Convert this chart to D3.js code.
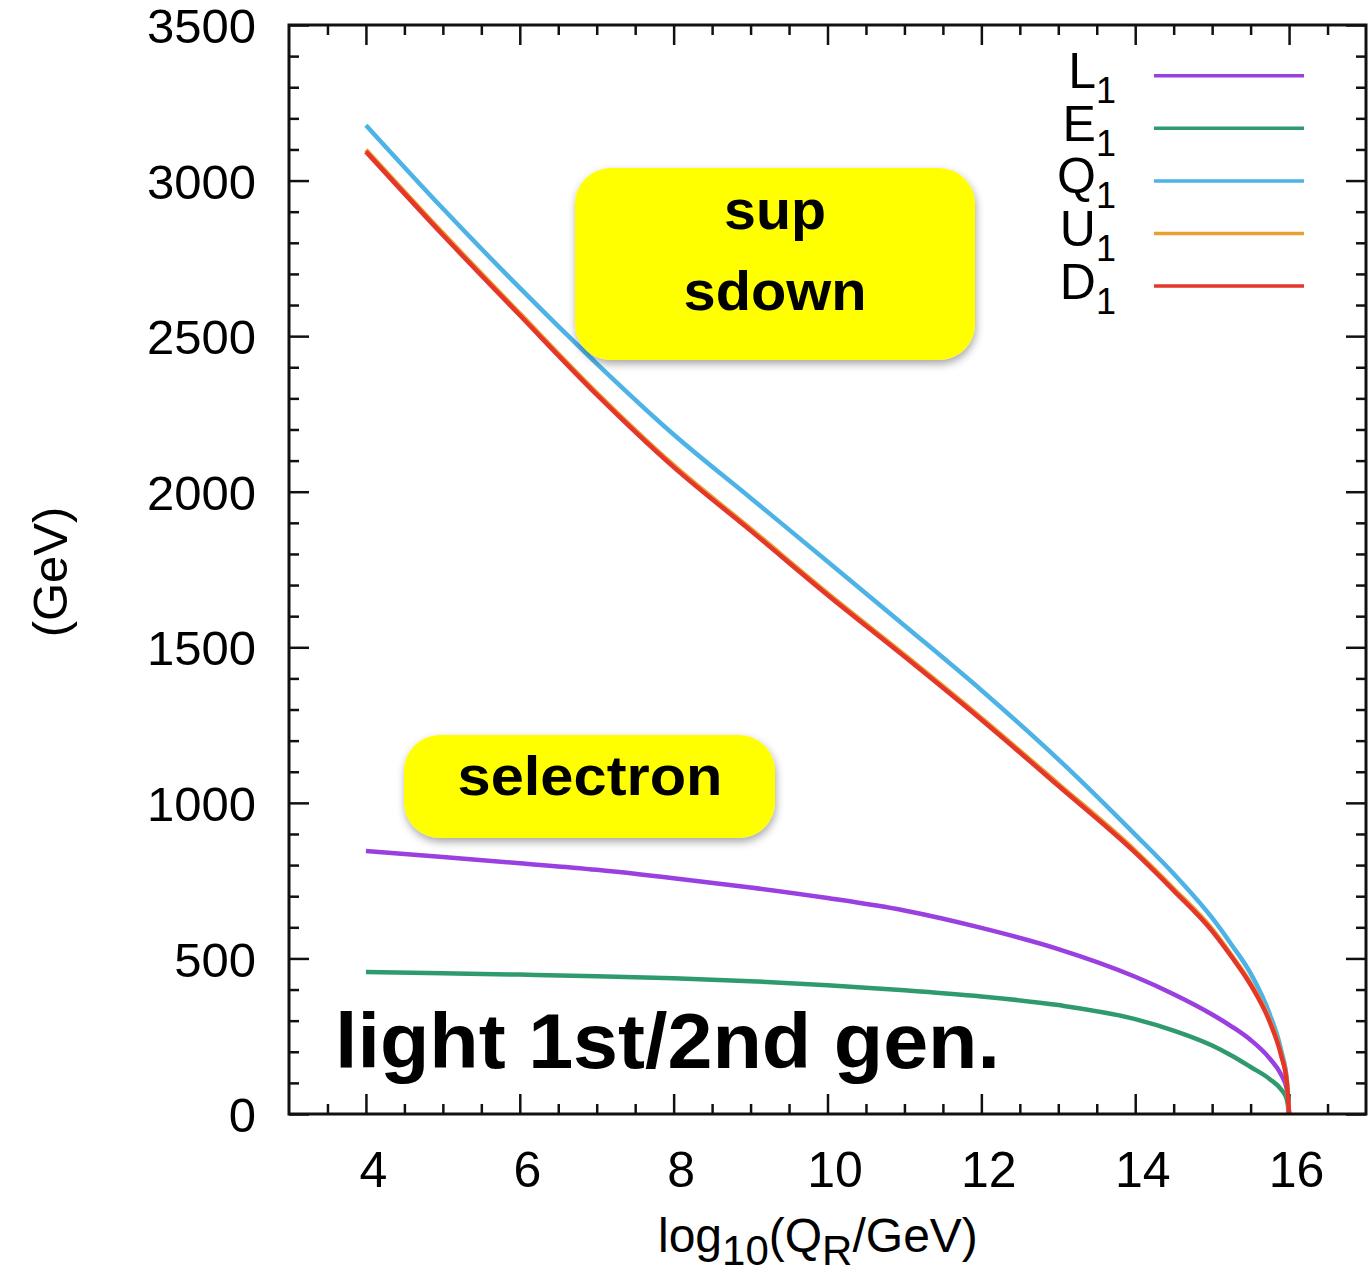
<!DOCTYPE html>
<html lang="en">
<head>
<meta charset="UTF-8">
<title>Running sfermion masses, light 1st/2nd gen.</title>
<script src="https://d3js.org/d3.v7.min.js"></script>
<style>
  body { margin: 0; background: #fff; }
  svg text { font-family: "Liberation Sans", Arial, sans-serif; fill: #000; }
</style>
</head>
<body>
<div id="chart"></div>
<script>
// log10(Q_R/GeV) sample points
const logQ = [4, 5, 6, 7, 8, 9, 10, 11, 12, 13, 14, 14.5, 15, 15.25, 15.5, 15.75, 15.9, 15.97, 16];

// masses in GeV
const mL1 = [845, 826, 806, 785, 758, 728, 694, 654, 598, 530, 441, 385, 320, 282, 238, 178, 125, 80, 0];
const mE1 = [456, 452, 448, 443, 436, 427, 414, 398, 378, 350, 305, 268, 220, 188, 151, 112, 78, 48, 0];
const mQ1 = [3178, 2910, 2655, 2412, 2184, 1980, 1776, 1570, 1362, 1140, 898, 772, 630, 545, 452, 320, 202, 111, 0];
const mU1 = [3099, 2831, 2573, 2318, 2085, 1881, 1674, 1476, 1273, 1061, 846, 724, 594, 511, 420, 300, 190, 106, 0];
const mD1 = [3093, 2825, 2567, 2312, 2079, 1875, 1668, 1470, 1267, 1055, 840, 718, 588, 506, 415, 295, 186, 103, 0];

const seriesNames = ["L", "E", "Q", "U", "D"];
const seriesValues = [mL1, mE1, mQ1, mU1, mD1];
const seriesColors = ["#9a3fe0", "#2f9a6e", "#4db3e6", "#e8a030", "#e5362a"];

const xTickLabels = [4, 6, 8, 10, 12, 14, 16];
const yTickLabels = [0, 500, 1000, 1500, 2000, 2500, 3000, 3500];

const width = 1370, height = 1276;
const plotLeft = 289, plotRight = 1366, plotTop = 25, plotBottom = 1114;

const x = d3.scaleLinear().domain([3, 17]).range([plotLeft, plotRight]);
const y = d3.scaleLinear().domain([0, 3500]).range([plotBottom, plotTop]);

const svg = d3.select("#chart")
  .append("svg")
  .attr("width", width)
  .attr("height", height);

const defs = svg.append("defs");
defs.append("clipPath").attr("id", "plotClip")
  .append("rect")
  .attr("x", plotLeft).attr("y", plotTop)
  .attr("width", plotRight - plotLeft).attr("height", plotBottom - plotTop);

const shadow = defs.append("filter").attr("id", "shadow")
  .attr("x", "-10%").attr("y", "-10%").attr("width", "125%").attr("height", "135%");
shadow.append("feDropShadow")
  .attr("dx", 1).attr("dy", 4).attr("stdDeviation", 4)
  .attr("flood-color", "#000").attr("flood-opacity", 0.35);

// ticks, inward on all four sides
function styleAxis(g) {
  g.select(".domain").remove();
  g.selectAll(".tick line").attr("stroke", "#111").attr("stroke-width", 2.5);
}

const xMinor = d3.range(3.5, 17, 0.5).filter(v => !xTickLabels.includes(v));
const yMinor = d3.range(100, 3500, 100).filter(v => v % 500 !== 0);

svg.append("g").attr("transform", `translate(0,${plotBottom})`)
  .call(d3.axisBottom(x).tickValues(xMinor).tickSize(-10).tickFormat(""))
  .call(styleAxis);
svg.append("g").attr("transform", `translate(0,${plotTop})`)
  .call(d3.axisTop(x).tickValues(xMinor).tickSize(-10).tickFormat(""))
  .call(styleAxis);
svg.append("g").attr("transform", `translate(0,${plotTop})`)
  .call(d3.axisTop(x).tickValues(xTickLabels).tickSize(-20).tickFormat(""))
  .call(styleAxis);

const xAxis = svg.append("g").attr("transform", `translate(0,${plotBottom})`)
  .call(d3.axisBottom(x).tickValues(xTickLabels).tickSize(-20).tickPadding(37).tickFormat(d3.format("d")))
  .call(styleAxis);
xAxis.selectAll("text")
  .attr("font-size", 50)
  .attr("font-family", "Liberation Sans, Arial, sans-serif")
  .attr("fill", "#000")
  .attr("dx", 7);

svg.append("g").attr("transform", `translate(${plotLeft},0)`)
  .call(d3.axisLeft(y).tickValues(yMinor).tickSize(-10).tickFormat(""))
  .call(styleAxis);
svg.append("g").attr("transform", `translate(${plotRight},0)`)
  .call(d3.axisRight(y).tickValues(yMinor).tickSize(-10).tickFormat(""))
  .call(styleAxis);
svg.append("g").attr("transform", `translate(${plotRight},0)`)
  .call(d3.axisRight(y).tickValues(yTickLabels).tickSize(-20).tickFormat(""))
  .call(styleAxis);

const yAxis = svg.append("g").attr("transform", `translate(${plotLeft},0)`)
  .call(d3.axisLeft(y).tickValues(yTickLabels).tickSize(-20).tickPadding(33).tickFormat(d3.format("d")))
  .call(styleAxis);
yAxis.selectAll("text")
  .attr("font-size", 49)
  .attr("font-family", "Liberation Sans, Arial, sans-serif")
  .attr("fill", "#000")
  .attr("dy", "0.36em");

// curves
const line = d3.line()
  .x((d, i) => x(logQ[i]))
  .y(d => y(d))
  .curve(d3.curveMonotoneX);

svg.append("g")
  .attr("clip-path", "url(#plotClip)")
  .selectAll("path")
  .data(seriesValues)
  .join("path")
  .attr("d", d => line(d))
  .attr("fill", "none")
  .attr("stroke", (d, i) => seriesColors[i])
  .attr("stroke-width", 4.5)
  .attr("stroke-linejoin", "round");

// frame
svg.append("rect")
  .attr("x", plotLeft).attr("y", plotTop)
  .attr("width", plotRight - plotLeft).attr("height", plotBottom - plotTop)
  .attr("fill", "none")
  .attr("stroke", "#111")
  .attr("stroke-width", 3);

// legend
const legend = svg.append("g")
  .selectAll("g")
  .data(seriesNames)
  .join("g")
  .attr("transform", (d, i) => `translate(0,${75.7 + i * 52.6})`);

legend.append("line")
  .attr("x1", 1154).attr("x2", 1304)
  .attr("y1", 0).attr("y2", 0)
  .attr("stroke", (d, i) => seriesColors[i])
  .attr("stroke-width", 3.5);

const legendText = legend.append("text")
  .attr("x", 1116)
  .attr("y", 12.5)
  .attr("text-anchor", "end")
  .attr("font-size", 50);
legendText.append("tspan").text(d => d);
legendText.append("tspan")
  .attr("font-size", 36)
  .attr("dy", 15)
  .text("1");

// axis titles
svg.append("text")
  .attr("transform", "translate(67,572) rotate(-90)")
  .attr("text-anchor", "middle")
  .attr("font-size", 49)
  .text("(GeV)");

const xTitle = svg.append("text")
  .attr("x", 658)
  .attr("y", 1252)
  .attr("font-size", 48);
xTitle.append("tspan").text("log");
xTitle.append("tspan").attr("font-size", 42).attr("dy", 13).text("10");
xTitle.append("tspan").attr("dy", -13).text("(Q");
xTitle.append("tspan").attr("font-size", 42).attr("dy", 13).text("R");
xTitle.append("tspan").attr("dy", -13).text("/GeV)");

// yellow call-out boxes
const boxFont = "'Noto Sans CJK JP', 'Noto Sans', sans-serif";

svg.append("rect")
  .attr("x", 575).attr("y", 168)
  .attr("width", 400).attr("height", 192)
  .attr("rx", 36)
  .attr("fill", "#ffff00")
  .attr("filter", "url(#shadow)");

svg.append("text")
  .attr("x", 775).attr("y", 229)
  .attr("text-anchor", "middle")
  .attr("font-family", boxFont)
  .attr("font-weight", 700)
  .attr("font-size", 56)
  .attr("textLength", 102)
  .attr("lengthAdjust", "spacingAndGlyphs")
  .text("sup");

svg.append("text")
  .attr("x", 775).attr("y", 310)
  .attr("text-anchor", "middle")
  .attr("font-family", boxFont)
  .attr("font-weight", 700)
  .attr("font-size", 56)
  .attr("textLength", 183)
  .attr("lengthAdjust", "spacingAndGlyphs")
  .text("sdown");

svg.append("rect")
  .attr("x", 404).attr("y", 735)
  .attr("width", 371).attr("height", 103)
  .attr("rx", 36)
  .attr("fill", "#ffff00")
  .attr("filter", "url(#shadow)");

svg.append("text")
  .attr("x", 590).attr("y", 795)
  .attr("text-anchor", "middle")
  .attr("font-family", boxFont)
  .attr("font-weight", 700)
  .attr("font-size", 56)
  .attr("textLength", 265)
  .attr("lengthAdjust", "spacingAndGlyphs")
  .text("selectron");

svg.append("text")
  .attr("x", 335).attr("y", 1068)
  .attr("font-family", boxFont)
  .attr("font-weight", 600)
  .attr("font-size", 78)
  .attr("textLength", 665)
  .attr("lengthAdjust", "spacingAndGlyphs")
  .text("light 1st/2nd gen.");
</script>
</body>
</html>
